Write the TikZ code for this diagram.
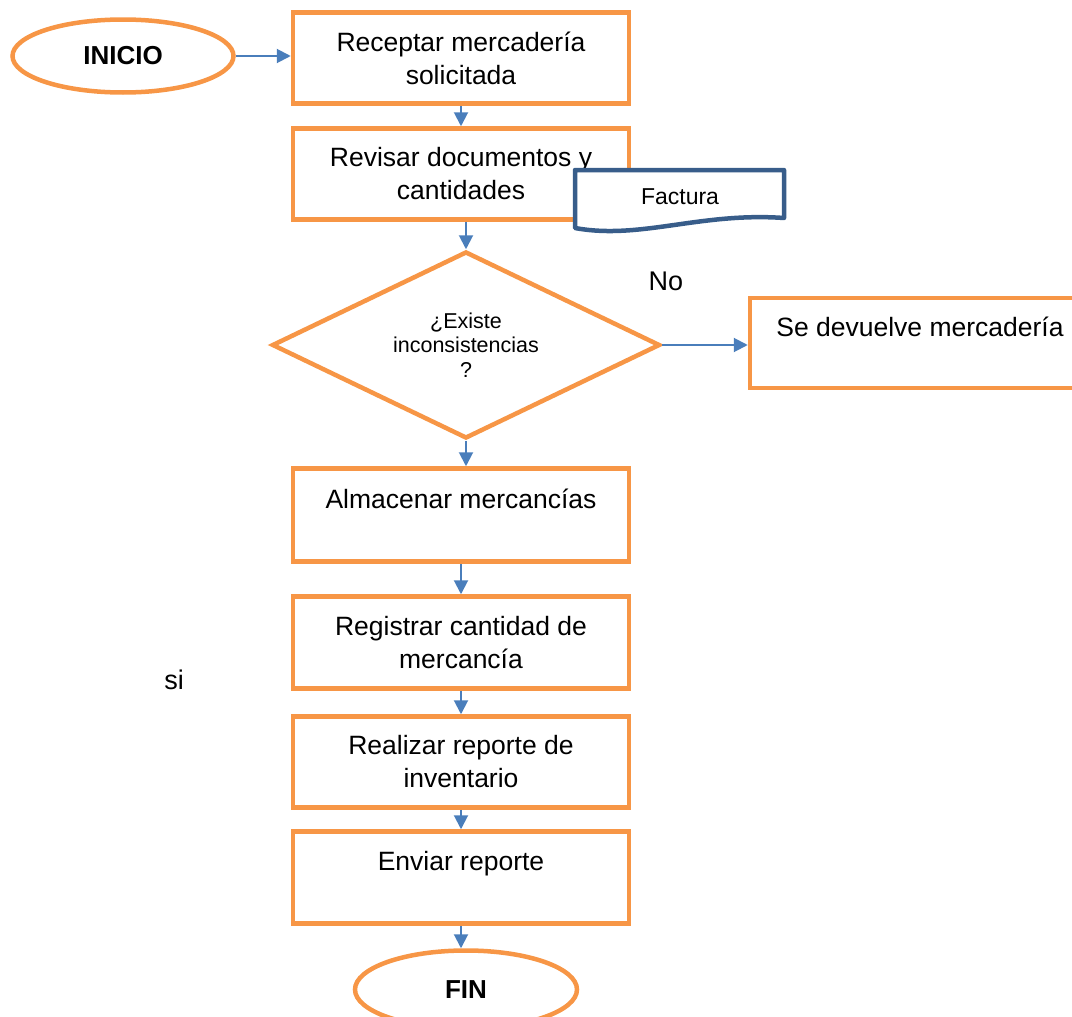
\documentclass[tikz,border=0pt]{standalone}
\usepackage{fontspec}
\setmainfont{Liberation Sans}
\usetikzlibrary{shapes.geometric, arrows.meta, positioning, calc}
\definecolor{naranja}{HTML}{F79646}
\definecolor{azul}{HTML}{4A7EBB}
\definecolor{azulosc}{HTML}{385D8A}

\begin{document}
\begin{tikzpicture}[
  x=1pt, y=-1pt,
  caja/.style={draw=naranja, fill=white, line width=4.5pt, align=center, inner sep=0pt,
               minimum width=336pt, minimum height=91pt, font=\fontsize{26.5}{33}\selectfont},
  term/.style={ellipse, draw=naranja, fill=white, line width=4.5pt, inner sep=0pt,
               font=\fontsize{26}{30}\selectfont\bfseries},
  deci/.style={diamond, draw=naranja, fill=white, line width=4.5pt, align=center, inner sep=0pt,
               aspect=2.07, minimum width=388pt, minimum height=187pt,
               font=\fontsize{21.5}{24.5}\selectfont},
  docu/.style={draw=azulosc, fill=white, line width=4.5pt, line join=round},
  flecha/.style={draw=azul, line width=2pt, -{Triangle[length=14pt,width=14pt]}},
  lab/.style={font=\fontsize{27}{30}\selectfont, inner sep=0pt}
]
\useasboundingbox (0,0) rectangle (1072,1017);

%--------------------------------------------------------------
% Columna principal
%--------------------------------------------------------------
\node[term, minimum width=221pt, minimum height=73pt] (inicio) at (123,56) {INICIO};

\node[caja] (receptar) at (461,58) {Receptar mercadería\\ solicitada};
\node[caja, below=20.5pt of receptar] (revisar) {Revisar documentos y\\ cantidades};

\node[deci, below=27.5pt of revisar, xshift=5pt] (existe) {¿Existe\\ inconsistencias\\ ?};

\node[caja, below=25.5pt of existe, xshift=-5pt, minimum height=93pt] (almacenar)
  {Almacenar mercancías\\ \mbox{}};
\node[caja, below=30.5pt of almacenar, minimum height=92pt] (registrar)
  {Registrar cantidad de\\ mercancía};
\node[caja, below=23.5pt of registrar] (realizar)
  {Realizar reporte de\\ inventario};
\node[caja, below=19.5pt of realizar, minimum height=92pt] (enviar)
  {Enviar reporte\\ \mbox{}};

\node[term, below=22.5pt of enviar, xshift=5pt, minimum width=222pt, minimum height=78pt] (fin) {FIN};

%--------------------------------------------------------------
% Rama "No" y documento
%--------------------------------------------------------------
\node[caja, minimum width=340pt, minimum height=90pt] (devuelve) at (920,343)
  {Se devuelve mercadería\\ \mbox{}};

% documento Factura
\path[docu] (575,170) -- (784,170) -- (784,218)
  .. controls (700,212) and (640,240) .. (575,228) -- cycle;
\node[inner sep=0pt, font=\fontsize{23}{26}\selectfont] (factura) at (680,197) {Factura};

\node[lab] (no) at (666,281) {No};
\node[lab] (si) at (174,680) {si};

%--------------------------------------------------------------
% Conexiones
%--------------------------------------------------------------
\draw[flecha] (inicio.east) -- (inicio.east -| receptar.west);
\draw[flecha] (receptar) -- (revisar);
\draw[flecha] (existe.north |- revisar.south) -- (existe.north);
\draw[flecha] (existe.east) -- (existe.east -| devuelve.west);
\draw[flecha] (existe.south) -- (existe.south |- almacenar.north);
\draw[flecha] (almacenar) -- (registrar);
\draw[flecha] (registrar) -- (realizar);
\draw[flecha] (realizar) -- (enviar);
\draw[flecha] (enviar.south) -- (enviar.south |- fin.north);

\end{tikzpicture}
\end{document}
